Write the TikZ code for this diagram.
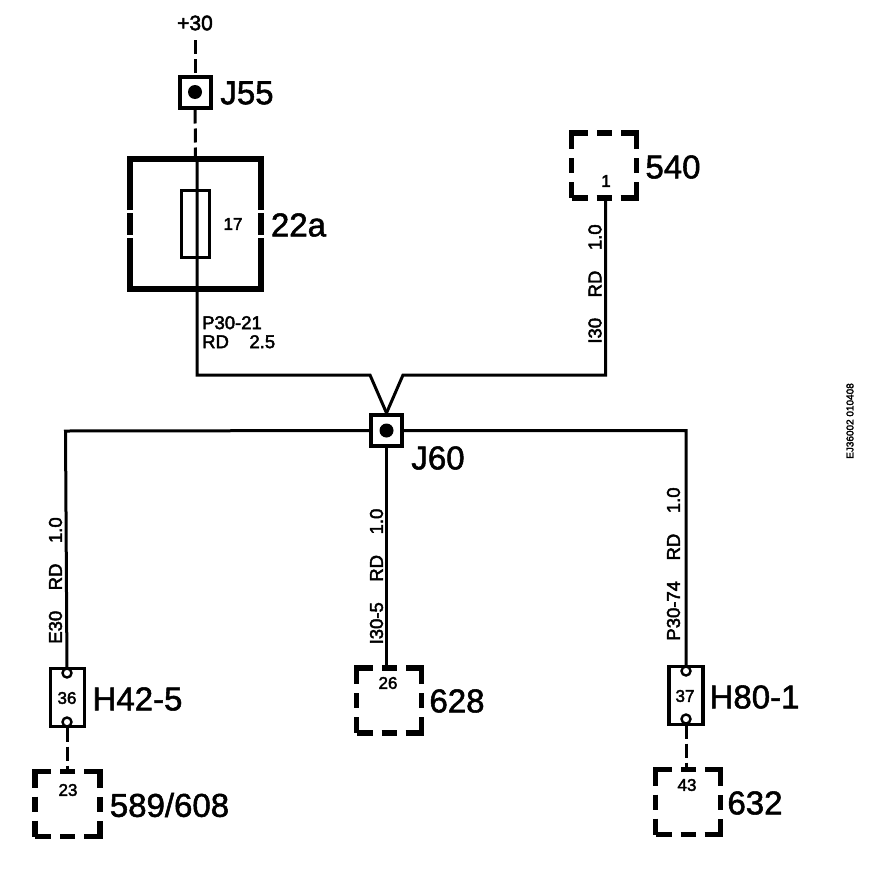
\documentclass[tikz,border=0pt]{standalone}
\usepackage{fontspec}
\setmainfont{Liberation Sans}
\newfontfamily\heavyfont[FakeBold=1.6]{Liberation Sans}
\newfontfamily\smallfont[FakeBold=2.4]{Liberation Sans}
\tikzset{
  wire/.style={line width=3pt},
  dashwire/.style={line width=3pt, dash pattern=on 14pt off 5pt},
  joint/.style={draw, line width=4pt, minimum size=31pt, inner sep=0pt},
  jointdot/.style={circle, fill, minimum size=14pt, inner sep=0pt},
  unit/.style={draw, line width=5.5pt, minimum size=65pt, inner sep=0pt,
    dash pattern=on 32pt off 9pt on 15pt off 9pt, dash phase=16pt},
  conn/.style={draw, line width=3.5pt, minimum width=34pt, minimum height=58pt, inner sep=0pt},
  pin/.style={circle, draw, line width=2.4pt, fill=white, minimum size=9pt, inner sep=0pt},
  heavy/.style={line width=6pt},
  bigtext/.style={inner sep=0pt, font=\heavyfont\fontsize{33}{33}\selectfont},
  wiretext/.style={inner sep=0pt, align=left, font=\smallfont\fontsize{18.5}{19}\selectfont},
  pintext/.style={inner sep=0pt, font=\smallfont\fontsize{17}{17}\selectfont}
}
\begin{document}
\begin{tikzpicture}[x=1pt,y=-1pt]
\useasboundingbox (0,0) rectangle (880,878);
% top feed
\node[wiretext, font=\smallfont\fontsize{21}{21}\selectfont] (plus30) at (195,23) {+30};
\node[joint] (j55) at (195,92) {};
\node[jointdot] (j55dot) at (195,92) {};
\node[bigtext] (j55label) at (247,93) {J55};
% fuse
\node[minimum width=131pt, minimum height=129pt, inner sep=0pt] (box22a) at (195.5,224) {};
\node[draw, line width=2.4pt, minimum width=28pt, minimum height=67pt, inner sep=0pt] (fuse17) at (195.5,224) {};
\node[pintext] (fusetext) at (233,224) {17};
\node[bigtext] (box22alabel) at (298.5,225) {22a};
\draw[heavy] ([yshift=14pt]box22a.west) |- (box22a.north) -| ([yshift=14pt]box22a.east);
\draw[heavy] ([yshift=-14pt]box22a.west) |- (box22a.south) -| ([yshift=-14pt]box22a.east);
\draw[heavy] ([yshift=11pt]box22a.west) -- ([yshift=-11pt]box22a.west);
\draw[heavy] ([yshift=11pt]box22a.east) -- ([yshift=-11pt]box22a.east);
% joint J60
\node[joint] (j60) at (386.5,430.5) {};
\node[jointdot] (j60dot) at (386.5,430.5) {};
\node[bigtext] (j60label) at (438,458) {J60};
% units
\node[unit] (box540) at (604,165.5) {};
\node[pintext] (box540pin) at (606,181) {1};
\node[bigtext] (box540label) at (673,167) {540};
\node[unit] (box628) at (389,700.5) {};
\node[pintext] (box628pin) at (388,683) {26};
\node[bigtext] (box628label) at (457,701) {628};
\node[unit] (box589) at (67.5,804) {};
\node[pintext] (box589pin) at (68,790) {23};
\node[bigtext] (box589label) at (169.5,805) {589/608};
\node[unit] (box632) at (688,802) {};
\node[pintext] (box632pin) at (687,785) {43};
\node[bigtext] (box632label) at (755,803) {632};
% connectors
\node[conn] (h42) at (67.5,697.5) {};
\node[pin] (h42top) at (67,673) {};
\node[pin] (h42bot) at (67,722) {};
\node[pintext] (h42pin) at (67,698) {36};
\node[bigtext] (h42label) at (137.5,699) {H42-5};
\node[conn] (h80) at (686,695.5) {};
\node[pin] (h80top) at (686,671) {};
\node[pin] (h80bot) at (686,719) {};
\node[pintext] (h80pin) at (685,696) {37};
\node[bigtext] (h80label) at (754.5,697) {H80-1};
% wires
\coordinate (feedtop) at (195,40);
\coordinate (bendleft) at (197,375);
\coordinate (slantleft) at (370,375);
\coordinate (slantright) at (403,375);
\coordinate (bendright) at (605.5,375);
\coordinate (cornerleft) at (65.5,431);
\draw[dashwire] (feedtop) -- (j55);
\draw[dashwire] (j55) -- (box22a.north);
\draw[wire] (box22a.north -| bendleft) -- (bendleft) -- (slantleft) -- (j60.north);
\draw[wire] (j60.north) -- (slantright) -- (bendright) -- (box540.south -| bendright);
\draw[wire] (h42top) -- (cornerleft) -- (j60) -| (h80top);
\draw[wire] (j60) -- (j60 |- box628.north);
\draw[dashwire] (h42bot) -- (h42bot |- box589.north);
\draw[dashwire] (h80bot) -- (h80bot |- box632.north);
% wire texts
\node[wiretext, anchor=north west] (p3021) at (202,316) {P30-21\\RD\ \ \ \ 2.5};
\node[wiretext, rotate=90] (i30) at (595,284) {I30\ \ \ \ RD\ \ \ \ 1.0};
\node[wiretext, rotate=90] (e30) at (55.5,580.5) {E30\ \ \ \ RD\ \ \ \ 1.0};
\node[wiretext, rotate=90] (i305) at (376.5,576.5) {I30-5\ \ \ \ RD\ \ \ \ 1.0};
\node[wiretext, rotate=90] (p3074) at (673.5,564) {P30-74\ \ \ \ RD\ \ \ \ 1.0};
\node[inner sep=0pt, rotate=90, font=\smallfont\fontsize{10}{10}\selectfont] (drawingno) at (850,421) {EJ36002 010408};
\end{tikzpicture}
\end{document}
